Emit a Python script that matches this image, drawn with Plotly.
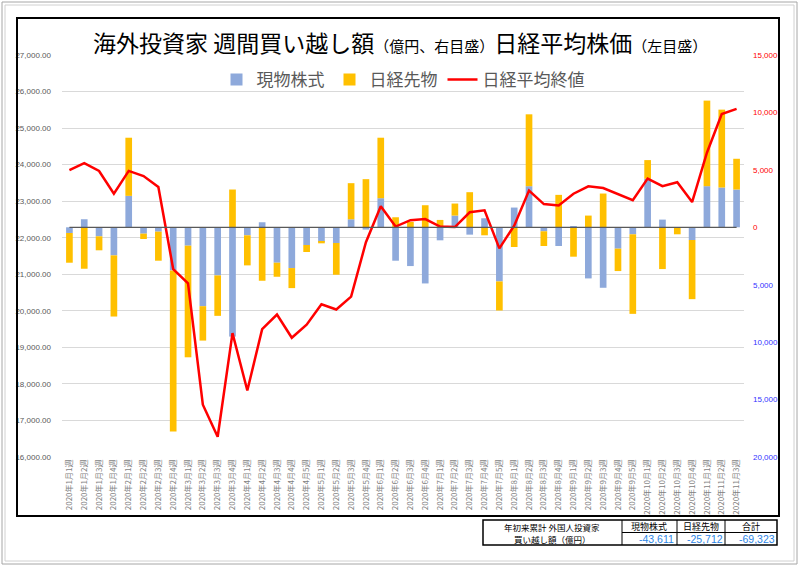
import plotly.graph_objects as go

categories = [
    "2020年1月1週", "2020年1月2週", "2020年1月3週", "2020年1月4週",
    "2020年2月1週", "2020年2月2週", "2020年2月3週", "2020年2月4週",
    "2020年3月1週", "2020年3月2週", "2020年3月3週", "2020年3月4週",
    "2020年4月1週", "2020年4月2週", "2020年4月3週", "2020年4月4週", "2020年4月5週",
    "2020年5月1週", "2020年5月2週", "2020年5月3週", "2020年5月4週",
    "2020年6月1週", "2020年6月2週", "2020年6月3週", "2020年6月4週",
    "2020年7月1週", "2020年7月2週", "2020年7月3週", "2020年7月4週", "2020年7月5週",
    "2020年8月1週", "2020年8月2週", "2020年8月3週", "2020年8月4週",
    "2020年9月1週", "2020年9月2週", "2020年9月3週", "2020年9月4週", "2020年9月5週",
    "2020年10月1週", "2020年10月2週", "2020年10月3週", "2020年10月4週",
    "2020年11月1週", "2020年11月2週", "2020年11月3週",
]

# 現物株式 (億円)
genbutsu = [
    -495, 700, -785, -2445,
    2735, -553, -380, -3754,
    -1600, -6868, -4190, -9516,
    -698, 437, -3085, -3550, -1542,
    -1280, -1368, 698, -200,
    2532, -2910, -3376, -4889,
    -1135, 1019, -640, 786, -4714,
    1717, 3579, -349, -1630,
    58, -4452, -5267, -1862, -611,
    4220, 669, 0, -1106,
    3579, 3463, 3288,
]

# 日経先物 (億円)
sakimono = [
    -2590, -3610, -1220, -5325,
    5063, -466, -2530, -14026,
    -9720, -2997, -3521, 3288,
    -2619, -4656, -1222, -1746, -611,
    -116, -2765, 3143, 4190,
    5267, 873, 466, 1921,
    640, 1048, 3056, -698, -2532,
    -1717, 6257, -1280, 2823,
    -2560, 1019, 2939, -1950, -6926,
    1630, -3638, -611, -5151,
    7450, 6780, 2677,
]

# 日経平均終値 (円)
nikkei = [
    23850, 24041, 23827, 23205,
    23828, 23688, 23387, 21143,
    20750, 17431, 16553, 19389,
    17820, 19499, 19897, 19262, 19619,
    20179, 20037, 20388, 21878,
    22864, 22305, 22479, 22512,
    22306, 22291, 22696, 22752, 21710,
    22330, 23289, 22920, 22883,
    23205, 23406, 23360, 23205, 23030,
    23620, 23411, 23517, 22977,
    24325, 25386, 25527,
]

summary_title = ["年初来累計 外国人投資家", "買い越し額（億円）"]
summary_headers = ["現物株式", "日経先物", "合計"]
summary_values = [-43611, -25712, -69323]

left_tickvals = list(range(16000, 27001, 1000))
right_tickvals = [15000, 10000, 5000, 0, -5000, -10000, -15000, -20000]

W, H = 800, 567
ML, MR, MT, MB = 62, 56, 55, 110
PW, PH = W - ML - MR, H - MT - MB


def px(x):
    return (x - ML) / PW


def py(y):
    return (H - MB - y) / PH


FONT = "Noto Sans CJK JP, Liberation Sans, sans-serif"
NUMFONT = "Liberation Sans, Noto Sans CJK JP, sans-serif"

fig = go.Figure()
fig.add_trace(go.Bar(x=categories, y=genbutsu, name="現物株式",
                     marker=dict(color="#8EA9DB", line=dict(width=0)), yaxis="y"))
fig.add_trace(go.Bar(x=categories, y=sakimono, name="日経先物",
                     marker=dict(color="#FFC000", line=dict(width=0)), yaxis="y"))
fig.add_trace(go.Scatter(x=categories, y=nikkei, name="日経平均終値", mode="lines",
                         line=dict(color="#FF0000", width=2.5), yaxis="y2"))


def rtext(v):
    col = "#FF0000" if v >= 0 else "#3333FF"
    return f"<span style='color:{col}'>{abs(v):,}</span>"


fig.update_layout(
    width=W, height=H,
    margin=dict(l=ML, r=MR, t=MT, b=MB),
    paper_bgcolor="white", plot_bgcolor="white",
    barmode="relative", bargap=0.55,
    font=dict(family=FONT, color="#595959"),
    showlegend=True,
    legend=dict(orientation="h", x=0.5, xanchor="center", y=py(80), yanchor="middle",
                font=dict(size=17, color="#595959", family=FONT),
                bgcolor="rgba(0,0,0,0)", traceorder="normal", itemwidth=30),
    xaxis=dict(type="category", tickangle=-90, range=[-0.5, len(categories) - 0.5],
               tickfont=dict(size=8, color="#7F7F7F", family=FONT),
               showgrid=False, zeroline=False, showline=False, ticks=""),
    yaxis=dict(side="right", range=[-20000, 15000], tickvals=right_tickvals,
               ticktext=[rtext(v) for v in right_tickvals],
               tickfont=dict(size=8, family=NUMFONT), showgrid=False, zeroline=False,
               showline=False, ticks="", ticklabelstandoff=8),
    yaxis2=dict(side="left", overlaying="y", range=[16000, 27000], tickvals=left_tickvals,
                tickformat=",.2f", tickfont=dict(size=8, color="#595959", family=NUMFONT),
                showgrid=True, gridcolor="#D9D9D9", gridwidth=1, zeroline=False,
                showline=False, ticks="", ticklabelstandoff=10),
)

shapes = []
# category axis line at 0
shapes.append(dict(type="line", xref="x", yref="y", x0=0, x1=len(categories) - 1, y0=0, y1=0,
                   line=dict(color="#595959", width=1.2), layer="above"))
# outer frame
shapes.append(dict(type="rect", xref="paper", yref="paper", x0=px(2), x1=px(797), y0=py(564), y1=py(2),
                   line=dict(color="#A6A6A6", width=1)))
shapes.append(dict(type="rect", xref="paper", yref="paper", x0=px(5), x1=px(794), y0=py(561), y1=py(5),
                   line=dict(color="#D0D0D0", width=1)))
# chart black frame
shapes.append(dict(type="rect", xref="paper", yref="paper", x0=px(17), x1=px(779), y0=py(516), y1=py(18),
                   line=dict(color="black", width=2)))
# summary table
shapes.append(dict(type="rect", xref="paper", yref="paper", x0=px(483), x1=px(777), y0=py(545), y1=py(520),
                   line=dict(color="black", width=1.5)))
for xv in (622, 677, 725):
    shapes.append(dict(type="line", xref="paper", yref="paper", x0=px(xv), x1=px(xv), y0=py(545), y1=py(520),
                       line=dict(color="black", width=1)))
shapes.append(dict(type="line", xref="paper", yref="paper", x0=px(622), x1=px(777), y0=py(532.5), y1=py(532.5),
                   line=dict(color="black", width=1)))

annotations = []
title = ("<span style='font-size:23px'>海外投資家 週間買い越し額</span>"
         "<span style='font-size:15px'>（億円、右目盛）</span>"
         "<span style='font-size:23px'>日経平均株価</span>"
         "<span style='font-size:15px'>（左目盛）</span>")
annotations.append(dict(text=title, xref="paper", yref="paper", x=px(400), y=py(42),
                        xanchor="center", yanchor="middle", showarrow=False,
                        font=dict(family=FONT, color="black", size=23)))


def cell(text, x, y, anchor, size, color, family):
    return dict(text=text, xref="paper", yref="paper", x=px(x), y=py(y),
                xanchor=anchor, yanchor="middle", showarrow=False, borderpad=0,
                font=dict(family=family, color=color, size=size))


annotations.append(cell(summary_title[0], 552, 526.5, "center", 8.5, "black", FONT))
annotations.append(cell(summary_title[1], 552, 538.5, "center", 8.5, "black", FONT))
hdr_centers = [649, 701, 751]
val_rights = [675, 724, 776]
for h, c in zip(summary_headers, hdr_centers):
    annotations.append(cell(h, c, 526.5, "center", 9, "black", FONT))
for v, r in zip(summary_values, val_rights):
    annotations.append(cell(f"{v:,}", r, 539, "right", 10.5, "#2E86E6", NUMFONT))

fig.update_layout(shapes=shapes, annotations=annotations)

fig.write_html("out.html", config={"displayModeBar": False},
               post_script="document.body.style.margin='0';")
